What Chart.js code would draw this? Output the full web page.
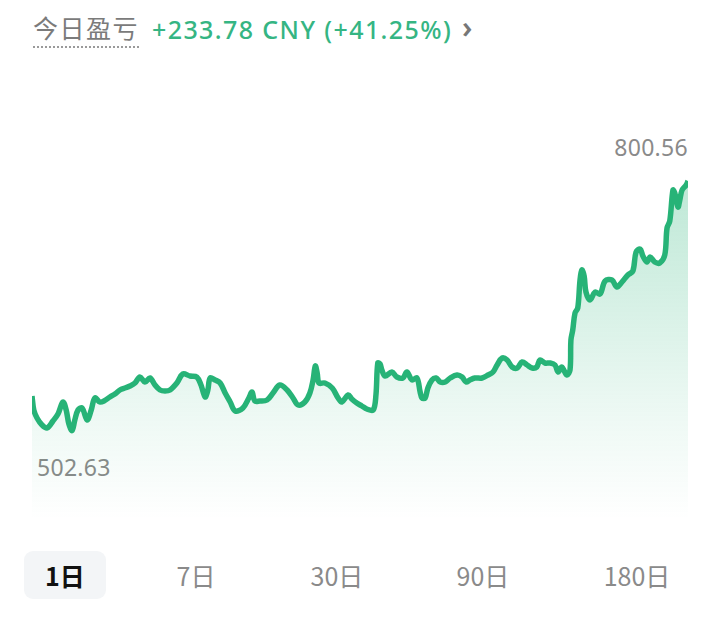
<!DOCTYPE html>
<html>
<head>
<meta charset="utf-8">
<script src="https://cdn.jsdelivr.net/npm/chart.js@4"></script>
<style>
  body { margin: 0; width: 720px; height: 629px; background: #fff; font-family: "Noto Sans", "Noto Sans CJK SC", sans-serif; position: relative; overflow: hidden; }
  .header { position: absolute; left: 33px; top: 9px; display: flex; align-items: center; white-space: nowrap; }
  .title { font-size: 25px; color: #7b7b7b; border-bottom: 2px dotted #9a9a9a; padding-bottom: 1px; margin-right: 13px; letter-spacing: 1.5px; font-family: "Noto Sans CJK SC", sans-serif; }
  .pnl { font-size: 25px; font-weight: 500; color: #35b583; letter-spacing: 1.4px; }
  .chev { font-size: 30px; color: #777; margin-left: 10px; margin-top: -4px; font-weight: 600; }
  .box { position: absolute; left: 20px; top: 130px; width: 680px; height: 390px; }
  .lbl { position: absolute; font-size: 23px; color: #8a8a8a; letter-spacing: 0.3px; }
  .tabs { position: absolute; left: 0; top: 551px; width: 720px; height: 48px; }
  .tab { position: absolute; top: 0; height: 48px; line-height: 48px; font-size: 25px; color: #8a8a8a; text-align: center; transform: translateX(-50%); font-family: "Noto Sans CJK SC", sans-serif; }
  .tab.on { background: #f3f5f7; color: #111; border-radius: 9px; width: 82px; font-weight: 600; }
</style>
</head>
<body>
<div class="header">
  <span class="title">今日盈亏</span>
  <span class="pnl" id="pnl"></span>
  <span class="chev">&#x203A;</span>
</div>
<div class="lbl" id="maxLbl" style="right:32px; top:131px;"></div>
<div class="lbl" id="minLbl" style="left:37px; top:451px;"></div>
<div class="box"><canvas id="pnlChart"></canvas></div>
<div class="tabs" id="tabs"></div>
<script>
// minutes since open, value (CNY)
const times = [0, 4, 11, 22, 33, 46, 57, 68, 75, 81, 88, 94, 101, 110, 121, 130, 138, 149, 158, 171,
  182, 193, 204, 215, 226, 237, 248, 259, 270, 281, 292, 303, 318, 331, 347, 362, 371, 380, 386, 391,
  402, 413, 424, 435, 446, 463, 476, 483, 489, 500, 516, 529, 544, 560, 573, 584, 599, 610, 617, 622,
  626, 630, 643, 659, 672, 680, 694, 702, 713, 724, 735, 749, 755, 759, 764, 768, 775, 790, 801, 814,
  823, 834, 845, 852, 856, 863, 869, 878, 887, 896, 907, 918, 933, 944, 953, 961, 972, 988, 1001, 1012,
  1021, 1032, 1043, 1054, 1065, 1076, 1087, 1098, 1108, 1115, 1126, 1137, 1148, 1155, 1163, 1174, 1181, 1183, 1187, 1192,
  1198, 1203, 1207, 1212, 1216, 1225, 1236, 1247, 1258, 1273, 1284, 1295, 1308, 1319, 1326, 1335, 1341, 1350, 1357, 1367,
  1378, 1389, 1394, 1400, 1407, 1411, 1418, 1422, 1427, 1436, 1440];
const values = [543.82, 527.11, 517.56, 509.20, 505.62, 513.97, 522.33, 536.66, 527.11, 510.39, 502.63, 515.17, 527.11, 529.50, 515.17, 527.11, 541.44, 536.66, 537.85, 542.63,
  546.21, 550.99, 553.38, 555.76, 559.35, 566.51, 560.54, 565.32, 556.96, 550.99, 549.79, 550.99, 559.35, 570.09, 567.70, 566.51, 556.96, 542.63, 550.99, 565.32,
  562.93, 559.35, 547.41, 536.66, 525.91, 529.50, 541.44, 548.60, 537.85, 537.85, 539.05, 547.41, 556.96, 550.99, 541.44, 533.08, 536.66, 547.41, 562.93, 579.64,
  571.29, 559.35, 559.35, 553.38, 541.44, 536.66, 545.02, 540.24, 535.47, 531.88, 528.30, 527.11, 545.02, 583.23, 582.03, 574.87, 567.70, 572.48, 566.51, 565.32,
  572.48, 562.93, 565.32, 548.60, 541.44, 541.44, 553.38, 562.93, 565.32, 560.54, 560.54, 565.32, 568.90, 566.51, 560.54, 562.93, 565.32, 565.32, 568.90, 572.48,
  580.84, 589.20, 586.81, 578.45, 577.26, 584.42, 580.84, 577.26, 578.45, 586.81, 583.23, 583.23, 580.84, 572.48, 578.45, 568.90, 574.87, 610.69, 622.63, 642.93,
  648.90, 682.33, 694.27, 687.10, 668.00, 658.45, 668.00, 665.61, 681.13, 682.33, 673.97, 679.94, 688.30, 693.07, 715.76, 719.34, 710.98, 703.82, 709.79, 703.82,
  702.63, 712.18, 744.42, 752.77, 789.79, 786.21, 769.49, 777.85, 789.79, 795.76, 800.56];
const tabLabels = ['1日', '7日', '30日', '90日', '180日'];
const profit = 233.78;
const profitPct = 41.25;

document.getElementById('pnl').innerText = `+${profit.toFixed(2)} CNY (+${profitPct.toFixed(2)}%)`;
document.getElementById('maxLbl').innerText = Math.max(...values).toFixed(2);
document.getElementById('minLbl').innerText = Math.min(...values).toFixed(2);

// tabs
const tabX = [65, 196, 337, 483, 637];
const tabs = document.getElementById('tabs');
tabLabels.forEach((t, i) => {
    const d = document.createElement('div');
    d.className = 'tab' + (i === 0 ? ' on' : '');
    d.style.left = tabX[i] + 'px';
    d.innerText = t;
    tabs.appendChild(d);
});

const points = times.map((t, i) => ({ x: t, y: values[i] }));

const ctx = document.getElementById('pnlChart').getContext('2d');
new Chart(ctx, {
    type: 'line',
    data: {
        datasets: [{
            data: points,
            borderColor: '#27b377',
            borderWidth: 5.5,
            pointRadius: 0,
            tension: 0.35,
            fill: 'start',
            backgroundColor: function(context) {
                const area = context.chart.chartArea;
                if (!area) return 'rgba(39,179,119,0.15)';
                const g = context.chart.ctx.createLinearGradient(0, area.top + 50, 0, area.bottom);
                g.addColorStop(0, 'rgba(39,179,119,0.3)');
                g.addColorStop(0.7, 'rgba(39,179,119,0.08)');
                g.addColorStop(1, 'rgba(39,179,119,0)');
                return g;
            }
        }]
    },
    options: {
        responsive: true,
        maintainAspectRatio: false,
        animation: false,
        layout: { padding: { left: 12, right: 12, top: 0, bottom: 0 } },
        scales: {
            x: { type: 'linear', min: 0, max: 1440, display: false },
            y: { min: 395.76, max: 861.46, display: false }
        },
        plugins: {
            legend: { display: false },
            tooltip: { enabled: false }
        }
    }
});
</script>
</body>
</html>
